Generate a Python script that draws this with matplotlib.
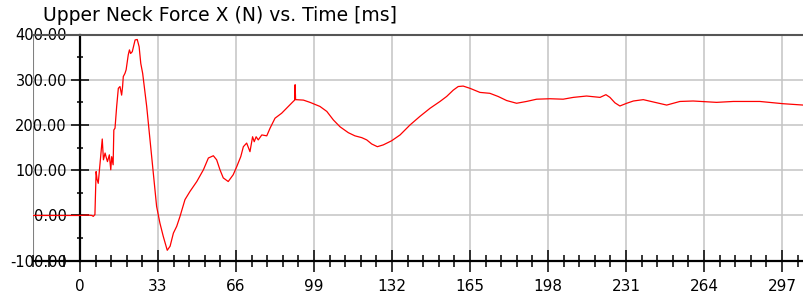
import matplotlib
matplotlib.use("Agg")
import matplotlib.pyplot as plt
from matplotlib.ticker import MultipleLocator, FuncFormatter

time_ms = [-20, 0, 3, 5.0, 5.6, 6.3, 6.8, 7.2, 7.7, 8.5, 9.4, 9.9, 10.6, 11.1, 11.6,
           12.4, 13.0, 13.4, 14.0, 14.3, 14.8, 15.5, 16.2, 16.9, 17.6, 18.0, 18.3,
           19.0, 19.5, 20.4, 20.9, 21.4, 22.1, 22.6, 23.3, 24.2, 25.0, 25.7, 26.5,
           28.2, 29.6, 31.0, 32.4, 33.8, 35.2, 36.9, 38.1, 39.5, 40.9, 42.3, 44.4,
           46.5, 49.4, 52.2, 54.3, 56.4, 57.8, 59.2, 60.6, 62.7, 64.8, 66.3, 68.0,
           69.1, 70.5, 71.9, 73.0, 73.7, 74.5, 75.4, 76.9, 79.0, 80.4, 82.5, 85.3,
           88.1, 90.2, 90.8, 91.0, 91.2, 94.5, 97.3, 101.5, 104.4, 107.2, 110.0,
           113.5, 116.3, 119.2, 121.3, 123.4, 125.8, 128.3, 131.8, 135.4, 139.6,
           143.8, 148.1, 152.3, 155.1, 157.9, 160.0, 162.1, 165.0, 169.2, 173.4,
           176.9, 180.5, 184.7, 188.9, 193.2, 198.8, 204.4, 208.7, 214.3, 220.0,
           222.5, 224.2, 226.3, 228.4, 231.3, 234.1, 238.3, 242.5, 248.2, 253.8,
           259.4, 269.3, 276.4, 287.6, 297.5, 306]
force_n = [0, 0, 1, 0, -2, 2, 97, 80, 71, 116, 169, 123, 138, 128, 119,
           134, 101, 130, 112, 189, 193, 241, 281, 285, 266, 285, 307,
           314, 322, 355, 366, 358, 362, 373, 388, 389, 373, 336, 314,
           241, 167, 94, 20, -17, -46, -77, -68, -39, -24, -2, 35,
           53, 75, 101, 127, 132, 123, 101, 83, 75, 90, 108, 130,
           152, 160, 141, 174, 163, 174, 167, 178, 176, 193, 215, 226,
           241, 252, 255, 289, 256, 255, 250, 241, 230, 211, 196,
           183, 176, 172, 167, 158, 152, 156, 165, 178, 200,
           219, 237, 252, 263, 277, 285, 286, 281, 272, 270,
           263, 254, 248, 252, 257, 258, 257, 261, 264, 261,
           267, 261, 249, 242, 248, 253, 256, 251, 244, 252,
           253, 250, 252, 252, 247, 244]

x_major = 33
y_major = 100
title = "Upper Neck Force X (N) vs. Time [ms]"

fig = plt.figure(figsize=(8.04, 2.99), dpi=100)
ax = fig.add_axes([33 / 804, 38.3 / 299, 771 / 804, 226.2 / 299])

ax.plot(time_ms, force_n, color="#ff0000", lw=0.9, zorder=3)

ax.set_xlim(-19.9, 306.3)
ax.set_ylim(-100, 400)

ax.xaxis.set_major_locator(MultipleLocator(x_major))
ax.xaxis.set_minor_locator(MultipleLocator(x_major / 5))
ax.yaxis.set_major_locator(MultipleLocator(y_major))
ax.yaxis.set_minor_locator(MultipleLocator(y_major / 2))
ax.xaxis.set_major_formatter(FuncFormatter(lambda v, p: f"{v:.0f}" if v >= 0 else ""))
ax.yaxis.set_major_formatter(FuncFormatter(lambda v, p: f"{v:.2f}"))

ax.grid(True, which="major", color="#c4c4c4", lw=1.1, zorder=0)

# axis lines
ax.spines["left"].set_position(("data", 0))
ax.spines["left"].set_linewidth(1.6)
ax.spines["left"].set_color("black")
ax.spines["bottom"].set_linewidth(1.6)
ax.spines["bottom"].set_color("black")
ax.spines["top"].set_color("#555555")
ax.spines["top"].set_linewidth(1.5)
ax.spines["right"].set_visible(False)
ax.axvline(-19.9, color="#808080", lw=1.5, zorder=1)

ax.tick_params(axis="x", which="major", direction="inout", length=16.5, width=1.1,
               labelsize=11, pad=5, colors="black")
ax.tick_params(axis="x", which="minor", direction="inout", length=8.4, width=1.1)
ax.tick_params(axis="y", which="major", direction="inout", length=13, width=1.1,
               labelsize=10.5, pad=3)
ax.tick_params(axis="y", which="minor", direction="inout", length=4.5, width=1.1)

fig.text(43 / 804, (299 - 20.7) / 299, title, fontsize=13.5, ha="left", va="baseline")

fig.savefig("out.png", dpi=100)
